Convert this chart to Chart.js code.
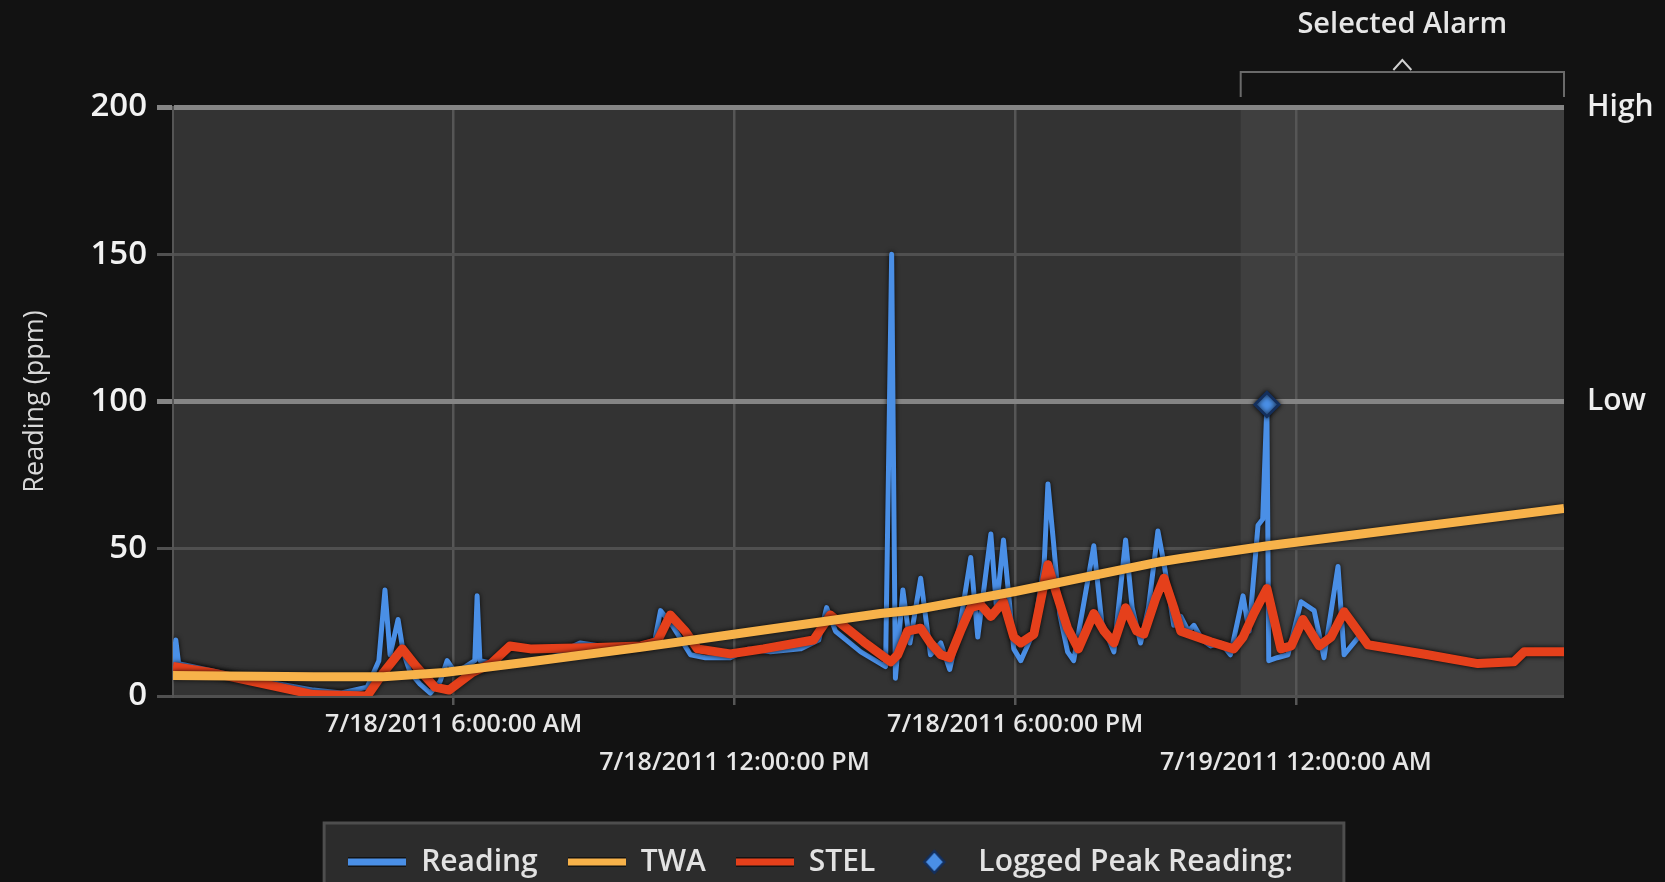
<!DOCTYPE html>
<html>
<head>
<meta charset="utf-8">
<title>Reading (ppm)</title>
<script src="https://cdn.jsdelivr.net/npm/chart.js@4.4.1/dist/chart.umd.min.js"></script>
<style>
    html, body { margin: 0; padding: 0; background: #121212; }
    #wrap { width: 1665px; height: 882px; }
</style>
</head>
<body>
<div id="wrap"><canvas id="readingChart" width="1665" height="882"></canvas></div>
<script>
"use strict";

// Time is in hours since 7/18/2011 12:00:00 AM
const xMax = 29.73;
const tickHours = [6, 12, 18, 24];
const tickLabels = ['7/18/2011 6:00:00 AM', '7/18/2011 12:00:00 PM', '7/18/2011 6:00:00 PM', '7/19/2011 12:00:00 AM'];
const limitValues = [100, 200];
const limitLabels = ['Low', 'High'];
const selectedStart = 22.82;

// Reading (ppm)
const readingHours = [0.00, 0.06, 0.12, 0.40, 1.60, 3.00, 3.60, 4.15, 4.40, 4.53, 4.64, 4.81, 4.92, 5.07, 5.28, 5.50, 5.71, 5.86,
    6.03, 6.25, 6.45, 6.50, 6.56, 6.89, 7.21, 7.53, 7.85, 8.28, 8.70, 9.13, 9.50, 9.90, 10.30, 10.42, 10.67, 11.06, 11.38, 11.91,
    12.30, 12.77, 13.41, 13.80, 13.97, 14.16, 14.70, 15.23, 15.36, 15.44, 15.60, 15.75, 15.98, 16.19, 16.41, 16.60, 16.83, 17.05,
    17.20, 17.48, 17.60, 17.75, 17.97, 18.12, 18.40, 18.62, 18.70, 18.82, 18.95, 19.12, 19.25, 19.45, 19.68, 19.85, 20.11,
    20.36, 20.50, 20.68, 20.85, 21.05, 21.18, 21.39, 21.54, 21.70, 21.82, 22.00, 22.18, 22.40, 22.60, 22.87, 23.00, 23.19,
    23.29, 23.38, 23.42, 23.60, 23.83, 24.11, 24.39, 24.60, 24.90, 25.03, 25.39, 25.54, 26.00, 26.82, 27.89, 28.66, 28.88, 29.73];
const readingValues = [10, 19, 11, 10, 6, 2, 1, 3, 12, 36, 14, 26, 15, 8, 4, 1, 5, 12,
    8, 10, 12, 34, 12, 11, 17, 16, 16, 15, 18, 17, 15, 17, 19, 29, 24, 14, 13, 13,
    16, 15, 16, 19, 30, 22, 15, 10, 150, 6, 36, 18, 40, 14, 18, 9, 25, 47,
    20, 55, 30, 53, 16, 12, 22, 45, 72, 52, 28, 15, 12, 30, 51, 25, 15,
    53, 30, 18, 30, 56, 45, 24, 27, 22, 24, 19, 17, 18, 14, 34, 22, 58,
    60, 99, 12, 13, 14, 32, 29, 13, 44, 14, 21, 18, 16, 14, 11, 11.5, 15, 14.5];

// TWA
const twaHours = [0.00, 3.00, 4.50, 5.80, 7.64, 10.00, 11.91, 15.12, 15.76, 18.00, 21.11, 21.54, 23.40, 29.73];
const twaValues = [7, 6.5, 6.5, 8, 11.6, 16.5, 20.8, 28, 29, 35.5, 45.6, 46.7, 51, 63.7];

// STEL
const stelHours = [0.00, 0.80, 3.00, 4.15, 4.50, 4.90, 5.20, 5.60, 5.90, 6.40, 6.80, 7.20, 7.64, 9.07, 10.00, 10.35, 10.63,
    10.95, 11.21, 11.91, 12.62, 13.69, 14.05, 14.76, 15.34, 15.49, 15.70, 15.98, 16.19, 16.41, 16.60, 16.83, 17.05, 17.26,
    17.48, 17.75, 17.97, 18.12, 18.40, 18.70, 18.82, 19.12, 19.35, 19.68, 19.90, 20.11, 20.36, 20.60, 20.75, 21.00, 21.18,
    21.39, 21.54, 22.18, 22.67, 22.87, 23.10, 23.38, 23.68, 23.90, 24.15, 24.50, 24.75, 25.03, 25.54, 26.82, 27.89, 28.66,
    28.88, 29.73];
const stelValues = [10, 8, 0.5, 0, 8, 16, 10, 3, 2, 8, 11, 17, 16, 16.5, 17, 18.5, 27.5,
    22, 16, 14.3, 16, 19, 27.5, 18.4, 11.6, 14, 22, 23, 18, 14, 13, 22, 30, 31,
    27, 32, 20, 18, 21, 44.6, 38, 23, 16, 28, 22, 18, 30, 22, 21, 33, 40,
    30, 22, 18.4, 16, 20, 28, 36.5, 16, 17, 26, 17, 20, 28.6, 17.4, 14, 11, 11.6,
    15, 15];

// Logged peak
const peakHour = 23.38;
const peakValue = 99;

const BLUE = '#4a8fe6';
const ORANGE = '#f7b24a';
const RED = '#e5401b';
const FONT = '"Open Sans", sans-serif';

const toPoints = (hours, values) => hours.map((h, i) => ({ x: h, y: values[i] }));

// Legend swatches
const lineSwatch = (color) => {
    const c = document.createElement('canvas');
    c.width = 58;
    c.height = 10;
    const g = c.getContext('2d');
    g.fillStyle = 'rgba(0,0,0,0.55)';
    g.fillRect(0, 0, 58, 10);
    g.fillStyle = color;
    g.fillRect(0, 1.5, 58, 7);
    return c;
};
const diamondSwatch = () => {
    const c = document.createElement('canvas');
    c.width = 26;
    c.height = 26;
    const g = c.getContext('2d');
    g.beginPath();
    g.moveTo(13, 2); g.lineTo(23, 13); g.lineTo(13, 24); g.lineTo(3, 13); g.closePath();
    g.fillStyle = BLUE;
    g.fill();
    g.lineWidth = 2.5;
    g.strokeStyle = '#142f5c';
    g.stroke();
    return c;
};
const swatches = [lineSwatch(BLUE), lineSwatch(ORANGE), lineSwatch(RED), diamondSwatch()];

// Plot background, selected alarm band and legend panel
const backdrop = {
    id: 'backdrop',
    beforeDraw(chart) {
        const { ctx, chartArea: a, scales: { x } } = chart;
        ctx.save();
        ctx.fillStyle = '#333333';
        ctx.fillRect(a.left, a.top, a.right - a.left, a.bottom - a.top);
        const sx = x.getPixelForValue(selectedStart);
        ctx.fillStyle = '#3f3f3f';
        ctx.fillRect(sx, a.top, a.right - sx, a.bottom - a.top);

        const lg = chart.legend;
        if (lg && lg.legendHitBoxes && lg.legendHitBoxes.length) {
            const boxes = lg.legendHitBoxes;
            const left = Math.min(...boxes.map(b => b.left)) - 24;
            const right = Math.max(...boxes.map(b => b.left + b.width)) + 51;
            const top = lg.top + 6;
            ctx.fillStyle = '#2c2c2c';
            ctx.fillRect(left, top, right - left, chart.height - top + 20);
            ctx.strokeStyle = '#4e4e4e';
            ctx.lineWidth = 3;
            ctx.strokeRect(left, top, right - left, chart.height - top + 20);
        }
        ctx.restore();
    }
};

// "Selected Alarm" bracket above the band
const alarmBracket = {
    id: 'alarmBracket',
    afterDraw(chart) {
        const { ctx, chartArea: a, scales: { x } } = chart;
        const l = x.getPixelForValue(selectedStart);
        const r = a.right;
        const mid = (l + r) / 2;
        ctx.save();
        ctx.strokeStyle = '#6a6a6a';
        ctx.lineWidth = 2;
        ctx.beginPath();
        ctx.moveTo(l, a.top - 10);
        ctx.lineTo(l, a.top - 35);
        ctx.lineTo(r, a.top - 35);
        ctx.lineTo(r, a.top - 10);
        ctx.stroke();
        ctx.strokeStyle = '#d0d0d0';
        ctx.beginPath();
        ctx.moveTo(mid - 9, a.top - 37);
        ctx.lineTo(mid, a.top - 47);
        ctx.lineTo(mid + 9, a.top - 37);
        ctx.stroke();
        ctx.fillStyle = '#e6e6e6';
        ctx.font = '600 29px ' + FONT;
        ctx.textAlign = 'center';
        ctx.textBaseline = 'middle';
        ctx.fillText('Selected Alarm', mid, 25);
        ctx.restore();
    }
};

// dark halo round the lines
const lineShadow = {
    id: 'lineShadow',
    beforeDatasetDraw(chart) {
        const ctx = chart.ctx;
        ctx.save();
        ctx.shadowColor = 'rgba(0,0,0,0.85)';
        ctx.shadowBlur = 5;
    },
    afterDatasetDraw(chart) {
        chart.ctx.restore();
    }
};

const isLimit = (v) => limitValues.includes(v);

const drawChart = () => {
    const ctx = document.getElementById('readingChart').getContext('2d');
    new Chart(ctx, {
        type: 'line',
        data: {
            datasets: [{
                label: 'Reading',
                data: toPoints(readingHours, readingValues),
                borderColor: BLUE,
                backgroundColor: BLUE,
                borderWidth: 5,
                pointRadius: 0,
                tension: 0,
                borderJoinStyle: 'round',
                yAxisID: 'y',
                order: 4
            }, {
                label: 'TWA',
                data: toPoints(twaHours, twaValues),
                borderColor: ORANGE,
                backgroundColor: ORANGE,
                borderWidth: 9,
                pointRadius: 0,
                tension: 0,
                yAxisID: 'y',
                order: 2
            }, {
                label: 'STEL',
                data: toPoints(stelHours, stelValues),
                borderColor: RED,
                backgroundColor: RED,
                borderWidth: 9,
                pointRadius: 0,
                tension: 0,
                borderJoinStyle: 'round',
                yAxisID: 'y',
                order: 3
            }, {
                label: 'Logged Peak Reading:',
                data: [{ x: peakHour, y: peakValue }],
                showLine: false,
                pointStyle: 'rectRot',
                pointRadius: 12,
                backgroundColor: BLUE,
                borderColor: '#142f5c',
                borderWidth: 3,
                yAxisID: 'y',
                order: 1
            }]
        },
        options: {
            responsive: false,
            animation: false,
            devicePixelRatio: 1,
            events: [],
            layout: { padding: { top: 107, right: 0, bottom: -5, left: -24 } },
            plugins: {
                tooltip: { enabled: false },
                legend: {
                    position: 'bottom',
                    align: 'center',
                    labels: {
                        color: '#e2e2e2',
                        font: { family: FONT, size: 30, weight: '600' },
                        usePointStyle: true,
                        pointStyleWidth: 58,
                        padding: 30,
                        generateLabels: (c) => {
                            const items = Chart.defaults.plugins.legend.labels.generateLabels(c);
                            items.sort((a, b) => a.datasetIndex - b.datasetIndex);
                            items.forEach(it => { it.pointStyle = swatches[it.datasetIndex]; });
                            return items;
                        }
                    }
                }
            },
            scales: {
                x: {
                    type: 'linear',
                    min: 0,
                    max: xMax,
                    afterBuildTicks: (s) => { s.ticks = tickHours.map(v => ({ value: v })); },
                    afterFit: (s) => { s.height = 121; },
                    grid: { color: '#565656', lineWidth: 2.5, tickLength: 9 },
                    border: { display: false },
                    ticks: {
                        color: '#e6e6e6',
                        font: { family: FONT, size: 25, weight: '600', lineHeight: 1.55 },
                        padding: 0,
                        autoSkip: false,
                        minRotation: 0,
                        maxRotation: 0,
                        callback: (v) => {
                            const i = tickHours.indexOf(v);
                            return i % 2 === 0 ? [tickLabels[i], ''] : ['', tickLabels[i]];
                        }
                    }
                },
                y: {
                    position: 'left',
                    min: 0,
                    max: 200,
                    afterFit: (s) => { s.width = 197; },
                    ticks: {
                        stepSize: 50,
                        color: '#f2f2f2',
                        font: { family: FONT, size: 33, weight: '600' },
                        padding: 10
                    },
                    grid: {
                        color: (c) => isLimit(c.tick.value) ? '#858585' : '#505050',
                        lineWidth: (c) => isLimit(c.tick.value) ? 5 : 3,
                        tickLength: 16
                    },
                    border: { display: true, color: '#555555', width: 2 },
                    title: {
                        display: true,
                        text: 'Reading (ppm)',
                        color: '#d8d8d8',
                        font: { family: FONT, size: 27 },
                        padding: { top: 43, bottom: 0 }
                    }
                },
                y2: {
                    position: 'right',
                    min: 0,
                    max: 200,
                    afterBuildTicks: (s) => { s.ticks = limitValues.map(v => ({ value: v })); },
                    afterFit: (s) => { s.width = 101; },
                    ticks: {
                        color: '#eeeeee',
                        font: { family: FONT, size: 30, weight: '600' },
                        padding: 23,
                        callback: (v) => limitLabels[limitValues.indexOf(v)]
                    },
                    grid: { display: false, drawTicks: false },
                    border: { display: false }
                }
            }
        },
        plugins: [backdrop, lineShadow, alarmBracket]
    });
};

document.fonts.load('600 30px "Open Sans"').then(drawChart, drawChart);
</script>
</body>
</html>
